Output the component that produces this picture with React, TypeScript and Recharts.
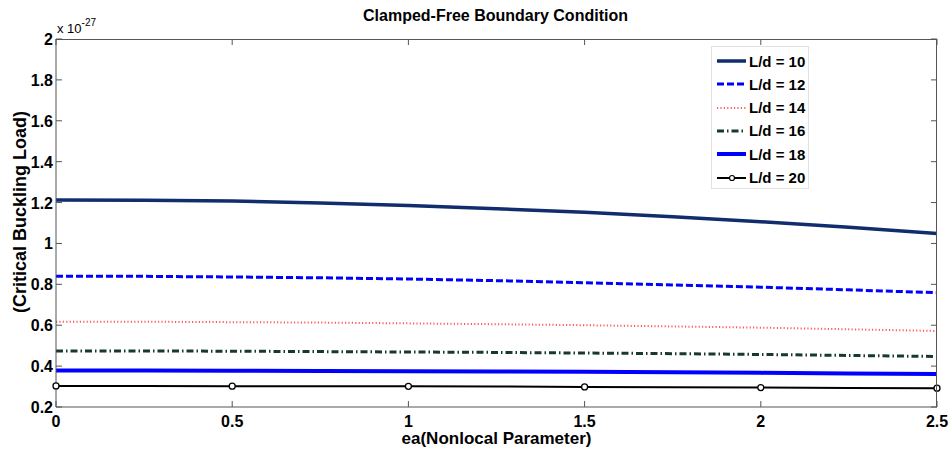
import { LineChart, Line, XAxis, YAxis } from "recharts";

// ea values (nonlocal parameter)
const ea = [0, 0.25, 0.5, 0.75, 1, 1.25, 1.5, 1.75, 2, 2.25, 2.5];

// critical buckling load (x 1e-27) for each L/d
const ld10 = [1.212, 1.211, 1.207, 1.198, 1.186, 1.170, 1.152, 1.130, 1.106, 1.079, 1.049];
const ld12 = [0.840, 0.839, 0.836, 0.832, 0.826, 0.818, 0.808, 0.797, 0.786, 0.773, 0.759];
const ld14 = [0.617, 0.617, 0.615, 0.613, 0.609, 0.605, 0.600, 0.594, 0.588, 0.580, 0.572];
const ld16 = [0.474, 0.474, 0.473, 0.471, 0.469, 0.467, 0.464, 0.461, 0.457, 0.452, 0.447];
const ld18 = [0.378, 0.378, 0.377, 0.376, 0.375, 0.374, 0.372, 0.370, 0.367, 0.364, 0.361];
const ld20 = [0.303, 0.303, 0.302, 0.302, 0.301, 0.300, 0.298, 0.297, 0.295, 0.293, 0.292];

const xTicks = [0, 0.5, 1, 1.5, 2, 2.5];
const yTicks = [0.2, 0.4, 0.6, 0.8, 1, 1.2, 1.4, 1.6, 1.8, 2];

const data = ea.map((x, i) => ({
  ea: x,
  ld10: ld10[i],
  ld12: ld12[i],
  ld14: ld14[i],
  ld16: ld16[i],
  ld18: ld18[i],
  ld20: ld20[i],
}));

const series = [
  { key: "ld10", name: "L/d = 10", color: "#112d6e", width: 3.5, dash: undefined },
  { key: "ld12", name: "L/d = 12", color: "#0000ff", width: 3, dash: "7 3" },
  { key: "ld14", name: "L/d = 14", color: "#ff5c5c", width: 2, dash: "1.2 2.2" },
  { key: "ld16", name: "L/d = 16", color: "#183a2a", width: 3, dash: "7 3 1.5 3" },
  { key: "ld18", name: "L/d = 18", color: "#0000ff", width: 4, dash: undefined },
  { key: "ld20", name: "L/d = 20", color: "#000000", width: 2, dash: undefined },
];

const W = 949;
const H = 454;
const PL = 56;
const PR = 937;
const PT = 39;
const PB = 407;
const axisColor = "#555555";
const font = "'Liberation Sans', Arial, sans-serif";

// matlab style: ticks point inward, mirrored on the right; first tick also closes the box
const LeftTick = (p: any) => (
  <g>
    {p.index === 0 && (
      <path d={`M${PL},${PT + 0.5}H${PR - 0.5}V${PB}`} fill="none" stroke={axisColor} strokeWidth={1} />
    )}
    <line x1={PL} x2={PL + 6} y1={p.y} y2={p.y} stroke={axisColor} />
    <line x1={PR - 6} x2={PR} y1={p.y} y2={p.y} stroke={axisColor} />
    <text x={PL - 3} y={p.y} dy={6} textAnchor="end" fontFamily={font} fontWeight="bold" fontSize={16} fill="#000">
      {String(p.payload.value)}
    </text>
  </g>
);

// inward ticks on bottom, mirrored on top
const BottomTick = (p: any) => (
  <g>
    <line x1={p.x} x2={p.x} y1={PB} y2={PB - 6} stroke={axisColor} />
    <line x1={p.x} x2={p.x} y1={PT} y2={PT + 6} stroke={axisColor} />
    <text x={p.x} y={PB + 20} textAnchor="middle" fontFamily={font} fontWeight="bold" fontSize={16} fill="#000">
      {String(p.payload.value)}
    </text>
  </g>
);

const MarkerDot = (p: any) => {
  if (p.payload.ea % 0.5 !== 0) return <g key={`m${p.index}`} />;
  return <circle key={`m${p.index}`} cx={p.cx} cy={p.cy} r={3} fill="#fff" stroke="#000" strokeWidth={1.3} />;
};

export default function App() {
  return (
    <div style={{ position: "absolute", left: 0, top: 0, width: W, height: H, background: "#fff", fontFamily: font }}>
      <LineChart width={W} height={H} data={data} margin={{ top: PT, right: W - PR, bottom: 0, left: 0 }}>
        <XAxis
          dataKey="ea"
          type="number"
          domain={[0, 2.5]}
          ticks={xTicks}
          height={H - PB}
          stroke={axisColor}
          tickLine={false}
          tick={BottomTick}
          interval={0}
        />
        <YAxis
          type="number"
          domain={[0.2, 2]}
          ticks={yTicks}
          width={PL}
          stroke={axisColor}
          tickLine={false}
          tick={LeftTick}
          interval={0}
        />
        {series.map((s) => (
          <Line
            key={s.key}
            dataKey={s.key}
            name={s.name}
            type="linear"
            stroke={s.color}
            strokeWidth={s.width}
            strokeDasharray={s.dash}
            dot={s.key === "ld20" ? MarkerDot : false}
            activeDot={false}
            isAnimationActive={false}
          />
        ))}
      </LineChart>
      <div
        style={{
          position: "absolute",
          left: 711,
          top: 46,
          width: 96,
          height: 141,
          border: "1px solid #e2e2e2",
          background: "#fff",
        }}
      >
        {series.map((s, i) => (
          <div key={s.key} style={{ position: "absolute", left: 0, top: 4 + i * 23.3, height: 20, display: "flex", alignItems: "center" }}>
            <svg width={40} height={20}>
              <line x1={5} x2={34} y1={10} y2={10} stroke={s.color} strokeWidth={s.width} strokeDasharray={s.dash} />
              {s.key === "ld20" && <circle cx={20} cy={10} r={2.5} fill="#fff" stroke="#000" strokeWidth={1.2} />}
            </svg>
            <span style={{ fontSize: 15, fontWeight: "bold", color: "#000", marginLeft: -3 }}>{s.name}</span>
          </div>
        ))}
      </div>
      <div style={{ position: "absolute", left: 0, width: W, top: 7, textAlign: "center", paddingLeft: 42, boxSizing: "border-box", fontSize: 16, fontWeight: "bold", color: "#000" }}>
        Clamped-Free Boundary Condition
      </div>
      <div style={{ position: "absolute", left: 57, top: 19, fontSize: 13, color: "#000", whiteSpace: "nowrap" }}>
        x 10<sup style={{ fontSize: 10, position: "relative", top: -2 }}>-27</sup>
      </div>
      <div
        style={{
          position: "absolute",
          left: 20,
          top: 212,
          transform: "translate(-50%, -50%) rotate(-90deg)",
          fontSize: 18,
          fontWeight: "bold",
          color: "#000",
          whiteSpace: "nowrap",
        }}
      >
        (Critical Buckling Load)
      </div>
      <div style={{ position: "absolute", left: 0, width: W, top: 429, textAlign: "center", paddingLeft: 44, boxSizing: "border-box", fontSize: 17, fontWeight: "bold", color: "#000" }}>
        ea(Nonlocal Parameter)
      </div>
    </div>
  );
}
